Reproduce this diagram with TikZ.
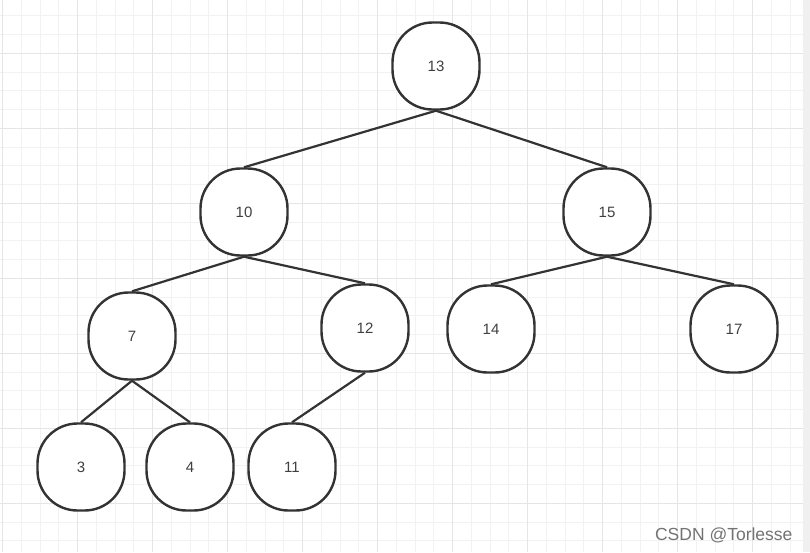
\documentclass[tikz,border=0pt]{standalone}
\usepackage{fontspec}
\setmainfont{Liberation Sans}
\begin{document}
\begin{tikzpicture}[x=1pt,y=-1pt,
  treenode/.style={draw=black!80, line width=2.4pt, fill=white, rounded corners=40pt,
    minimum width=87pt, minimum height=87pt, inner sep=0pt, text=black!75, font=\fontsize{15}{15}\selectfont},
  edge/.style={draw=black!80, line width=2.2pt},
  minorgrid/.style={draw=black!5, line width=1pt},
  majorgrid/.style={draw=black!10, line width=1pt}]
\useasboundingbox (0,0) rectangle (810,552);
\fill[white] (0,0) rectangle (810,552);
% grid
\foreach \i in {0,...,42} {
  \draw[minorgrid] ({2.7+18.75*\i},0) -- ({2.7+18.75*\i},552);
}
\foreach \j in {-2,...,26} {
  \draw[minorgrid] (0,{53.3+18.75*\j}) -- (810,{53.3+18.75*\j});
}
\foreach \i in {0,...,10} {
  \draw[majorgrid] ({2.7+75*\i},0) -- ({2.7+75*\i},552);
}
\foreach \j in {0,...,6} {
  \draw[majorgrid] (0,{53.3+75*\j}) -- (810,{53.3+75*\j});
}
\fill[black!6] (803,0) rectangle (810,552);
% nodes
\node[treenode] (n13) at (436,66) {13};
\node[treenode] (n10) at (244,212) {10};
\node[treenode] (n15) at (607,212) {15};
\node[treenode] (n7) at (132,336) {7};
\node[treenode] (n12) at (365,328) {12};
\node[treenode] (n14) at (491,329) {14};
\node[treenode] (n17) at (734,329) {17};
\node[treenode] (n3) at (81,467) {3};
\node[treenode] (n4) at (190,467) {4};
\node[treenode] (n11) at (292,467) {11};
% edges
\draw[edge] (n13.south) -- (n10.north);
\draw[edge] (n13.south) -- (n15.north);
\draw[edge] (n10.south) -- (n7.north);
\draw[edge] (n10.south) -- (n12.north);
\draw[edge] (n15.south) -- (n14.north);
\draw[edge] (n15.south) -- (n17.north);
\draw[edge] (n7.south) -- (n3.north);
\draw[edge] (n7.south) -- (n4.north);
\draw[edge] (n12.south) -- (n11.north);
% watermark
\node[text=black!55, font=\fontsize{17.5}{17.5}\selectfont, anchor=east] (wm) at (796,535) {CSDN @Torlesse};
\end{tikzpicture}
\end{document}
